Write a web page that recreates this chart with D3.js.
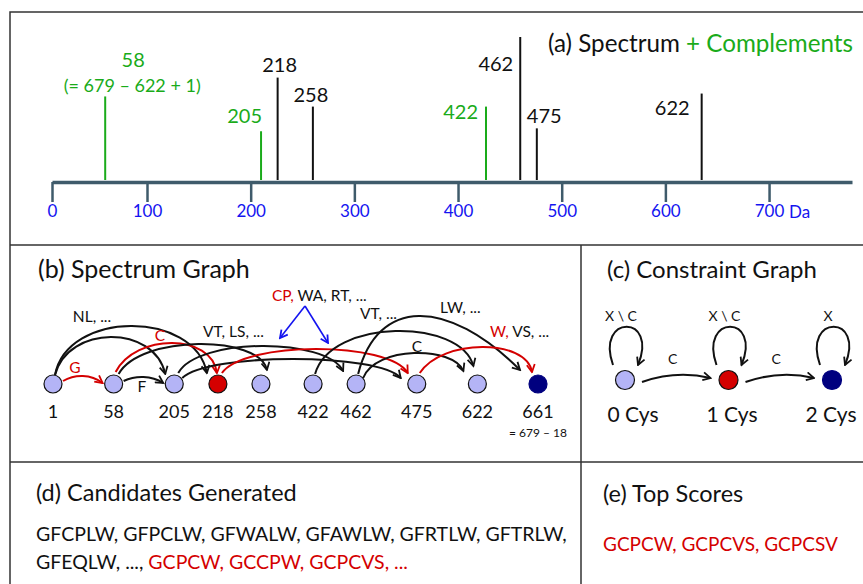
<!DOCTYPE html>
<html>
<head>
<meta charset="utf-8">
<script src="https://cdn.jsdelivr.net/npm/d3@7"></script>
<style>
  body { margin: 0; background: #fff; }
  svg { display: block; font-family: Lato, "Liberation Sans", sans-serif; }
</style>
</head>
<body>
<script>
// ---------- data ----------
const axisTicks = [0, 100, 200, 300, 400, 500, 600, 700];
const peakLabels = ["58", "205", "218", "258", "422", "462", "475", "622"];
const peakAxisDa = [56, 210, 226, 260, 427, 460, 476, 635]; // where each peak sits on the axis
const peakIntensity = [59, 35, 72, 52, 52, 100, 37, 61];
const peakIsComplement = [true, true, false, false, true, false, false, false];

const graphNodes = ["1", "58", "205", "218", "258", "422", "462", "475", "622", "661"];
const nodeCys = [0, 0, 0, 1, 0, 0, 0, 0, 0, 2];
const graphEdges = [
  ["1", "58", "red"], ["58", "205", "black"], ["1", "205", "black"], ["1", "218", "black"],
  ["58", "218", "red"], ["58", "258", "black"], ["205", "462", "black"], ["205", "475", "black"],
  ["218", "475", "red"], ["422", "622", "black"], ["462", "661", "black"], ["462", "622", "black"],
  ["475", "661", "red"]
];
const edgeTexts = [
  ["NL, ..."], ["G", "red"], ["F"], ["C", "red"], ["VT, LS, ..."],
  ["CP, ", "red", "WA, RT, ..."], ["VT, ..."], ["LW, ..."], ["C"], ["W, ", "red", "VS, ..."]
];

const cysStates = ["0 Cys", "1 Cys", "2 Cys"];
const loopLabels = ["X \\ C", "X \\ C", "X"];
const stepLabels = ["C", "C"];

const candidatesLine1 = "GFCPLW, GFPCLW, GFWALW, GFAWLW, GFRTLW, GFTRLW,";
const candidatesLine2 = "GFEQLW, ..., ";
const candidatesRed = "GCPCW, GCCPW, GCPCVS, ...";
const topScores = ["GCPCW", "GCPCVS", "GCPCSV"];

// ---------- setup ----------
const width = 863, height = 584;
const GREEN = "#1aab1a", BLUE = "#1414f0", RED = "#d40000", NAVY = "#00007f",
  LAV = "#b4b4f6", AXIS = "#3f5b6b", INK = "#111";
const stateColor = [LAV, RED, NAVY];

const svg = d3.select("body").append("svg")
  .attr("width", width)
  .attr("height", height);

// panel frame
svg.append("rect")
  .attr("x", 10).attr("y", 12)
  .attr("width", 870).attr("height", 590)
  .attr("fill", "none").attr("stroke", "#333").attr("stroke-width", 1.5);
svg.append("g")
  .attr("stroke", "#333").attr("stroke-width", 1.5)
  .selectAll("line")
  .data([[10, 245, 880, 245], [10, 462, 880, 462], [581, 245, 581, 600]])
  .join("line")
  .attr("x1", d => d[0]).attr("y1", d => d[1])
  .attr("x2", d => d[2]).attr("y2", d => d[3]);

// arrowheads
const defs = svg.append("defs");
[["arrK", INK], ["arrR", RED], ["arrB", BLUE]].forEach(([id, c]) => {
  defs.append("marker")
    .attr("id", id)
    .attr("viewBox", "0 0 10 10")
    .attr("refX", 8.5).attr("refY", 5)
    .attr("markerWidth", 10).attr("markerHeight", 10)
    .attr("markerUnits", "userSpaceOnUse")
    .attr("orient", "auto")
    .append("path")
    .attr("d", "M1,1 L8.5,5 L1,9")
    .attr("fill", "none").attr("stroke", c).attr("stroke-width", 1.8);
});

// ---------- (a) spectrum ----------
const x = d3.scaleLinear().domain([0, 100, 780]).range([52, 147, 852]);
const y = d3.scaleLinear().domain([0, 100]).range([182, 37]);

const axis = svg.append("g")
  .attr("transform", "translate(0,182)")
  .call(d3.axisBottom(x).tickValues(axisTicks).tickSize(20).tickSizeOuter(0).tickPadding(3))
  .attr("font-family", null)
  .attr("font-size", 17);
axis.select(".domain").attr("stroke", AXIS).attr("stroke-width", 3.5);
axis.selectAll(".tick line").attr("stroke", AXIS).attr("stroke-width", 2.5);
axis.selectAll(".tick text").attr("fill", BLUE);
svg.append("text")
  .attr("x", 789).attr("y", 218)
  .attr("font-size", 17).attr("fill", BLUE)
  .text("Da");

const peaks = peakLabels.map((label, i) => ({
  label, at: peakAxisDa[i], h: peakIntensity[i], comp: peakIsComplement[i]
}));

svg.append("g")
  .selectAll("line")
  .data(peaks)
  .join("line")
  .attr("x1", d => x(d.at)).attr("x2", d => x(d.at))
  .attr("y1", y(0) - 2).attr("y2", d => y(d.h))
  .attr("stroke", d => d.comp ? GREEN : INK)
  .attr("stroke-width", 2);

// label placement next to each peak: [dx, dy from top, anchor]
const peakLabelPlace = {
  "58": [28, -29, "middle"], "205": [1, -8, "end"], "218": [2, -6, "middle"],
  "258": [-2, -5, "middle"], "422": [-8, 12, "end"], "462": [-7, 34, "end"],
  "475": [-10, -5, "start"], "622": [-12, 21, "end"]
};
svg.append("g")
  .attr("font-size", 20)
  .selectAll("text")
  .data(peaks)
  .join("text")
  .attr("x", d => x(d.at) + peakLabelPlace[d.label][0])
  .attr("y", d => y(d.h) + peakLabelPlace[d.label][1])
  .attr("text-anchor", d => peakLabelPlace[d.label][2])
  .attr("fill", d => d.comp ? GREEN : INK)
  .text(d => d.label);
svg.append("text")
  .attr("x", x(peaks[0].at) + 27).attr("y", y(peaks[0].h) - 4)
  .attr("text-anchor", "middle")
  .attr("font-size", 18).attr("fill", GREEN)
  .text("(= 679 \u2013 622 + 1)");

const titleA = svg.append("text").attr("x", 548).attr("y", 52).attr("font-size", 24.2).attr("fill", INK);
titleA.append("tspan").text("(a) Spectrum ");
titleA.append("tspan").attr("fill", GREEN).text("+ Complements");

// ---------- (b) spectrum graph ----------
svg.append("text").attr("x", 38).attr("y", 278).attr("font-size", 25).attr("fill", INK)
  .text("(b) Spectrum Graph");

const nodeSlot = [0, 1, 2, 2.72, 3.43, 4.29, 5, 6, 7, 8];
const gx = d3.scaleLinear().domain([0, 8]).range([53, 538]);
const nodeY = 384;
const nodeX = new Map(graphNodes.map((m, i) => [m, gx(nodeSlot[i])]));

// arc shapes: peak height h, start / end offsets from node centres
const edgeShape = {
  "1-58": { h: 8, sdx: 10, sdy: 3, edx: 11, edy: 1, a: 0.3, b: 0.3 },
  "58-205": { h: 7, sdx: 10, sdy: 3, edx: 11, edy: 1, a: 0.3, b: 0.3 },
  "1-205": { h: 47, sdx: 2, sdy: 9, edx: 9, edy: 10 },
  "1-218": { h: 58, sdx: 2, sdy: 9, edx: 11, edy: 11, a: 0.08, b: 0.08 },
  "58-218": { h: 41, sdx: 2, sdy: 12, edx: 1, edy: 11, a: 0.2, b: 0.05 },
  "58-258": { h: 40, sdx: 5, sdy: 10, edx: -6, edy: 14, a: 0.15, b: 0.05 },
  "205-462": { h: 38, sdx: 4, sdy: 11, edx: 13, edy: 13 },
  "205-475": { h: 25, sdx: 8, sdy: 6, edx: 16, edy: 6 },
  "218-475": { h: 35, sdx: 4, sdy: 11, edx: 9, edy: 11 },
  "422-622": { h: 53, sdx: 2, sdy: 10, edx: 4, edy: 18, a: 0.1, b: 0.08 },
  "462-661": { h: 68, sdx: 2, sdy: 10, edx: 18, edy: 14, a: 0.12, b: 0.45 },
  "462-622": { h: 31, sdx: 7, sdy: 6, edx: 14, edy: 13 },
  "475-661": { h: 37, sdx: 3, sdy: 11, edx: 6, edy: 12, a: 0.2, b: 0.05 }
};

function edgePath([from, to]) {
  const s = edgeShape[from + "-" + to];
  const x1 = nodeX.get(from) + s.sdx, y1 = nodeY - s.sdy;
  const x2 = nodeX.get(to) - s.edx, y2 = nodeY - s.edy;
  const cy = (nodeY - s.h - 0.125 * (y1 + y2)) / 0.75;
  const span = x2 - x1;
  const p = d3.path();
  p.moveTo(x1, y1);
  p.bezierCurveTo(x1 + span * (s.a ?? 0.12), cy, x2 - span * (s.b ?? 0.1), cy, x2, y2);
  return p.toString();
}

svg.append("g")
  .attr("fill", "none")
  .attr("stroke-width", 2)
  .selectAll("path")
  .data(graphEdges)
  .join("path")
  .attr("d", edgePath)
  .attr("stroke", d => d[2] === "red" ? RED : INK)
  .attr("marker-end", d => d[2] === "red" ? "url(#arrR)" : "url(#arrK)");

svg.append("g")
  .selectAll("circle")
  .data(graphNodes)
  .join("circle")
  .attr("cx", d => nodeX.get(d)).attr("cy", nodeY)
  .attr("r", 9)
  .attr("fill", (d, i) => stateColor[nodeCys[i]])
  .attr("stroke", d => d === "661" ? NAVY : INK)
  .attr("stroke-width", 1.2);

svg.append("g")
  .attr("font-size", 18).attr("text-anchor", "middle").attr("fill", INK)
  .selectAll("text")
  .data(graphNodes)
  .join("text")
  .attr("x", d => nodeX.get(d)).attr("y", 418)
  .text(d => d);
svg.append("text")
  .attr("x", nodeX.get("661")).attr("y", 437)
  .attr("text-anchor", "middle").attr("font-size", 12).attr("fill", INK)
  .text("= 679 \u2013 18");

// edge label placement: [x, y, anchor]
const edgeTextPlace = [
  [92, 322, "middle"], [75, 373, "middle"], [142, 392, "middle"], [160, 341, "middle"],
  [203, 337, "start"], [272, 301, "start"], [360, 319, "start"], [440, 313, "start"],
  [417, 352, "middle"], [490, 337, "start"]
];
edgeTexts.forEach((parts, i) => {
  const [px, py, anchor] = edgeTextPlace[i];
  const t = svg.append("text").attr("x", px).attr("y", py)
    .attr("text-anchor", anchor).attr("font-size", 15.5).attr("fill", INK);
  if (parts.length === 1) t.text(parts[0]);
  else if (parts.length === 2) t.attr("fill", RED).text(parts[0]);
  else {
    t.append("tspan").attr("fill", RED).text(parts[0]);
    t.append("tspan").text(parts[2]);
  }
});

// blue pointers from the CP/WA/RT label to its two edges
svg.append("g")
  .attr("stroke", BLUE).attr("stroke-width", 1.6).attr("fill", "none")
  .selectAll("line")
  .data([[305, 306, 280, 338], [305, 306, 328, 343]])
  .join("line")
  .attr("x1", d => d[0]).attr("y1", d => d[1])
  .attr("x2", d => d[2]).attr("y2", d => d[3])
  .attr("marker-end", "url(#arrB)");

// ---------- (c) constraint graph ----------
svg.append("text").attr("x", 607).attr("y", 278).attr("font-size", 24).attr("fill", INK)
  .text("(c) Constraint Graph");

const cx = d3.scalePoint().domain(cysStates).range([625, 832]);
const cY = 380;

svg.append("g")
  .attr("fill", "none").attr("stroke", INK).attr("stroke-width", 2)
  .selectAll("path")
  .data(cysStates)
  .join("path")
  .attr("d", d => {
    const p = d3.path(), x0 = cx(d);
    p.moveTo(x0 - 12, cY - 15);
    p.bezierCurveTo(x0 - 30, cY - 66, x0 + 34, cY - 66, x0 + 13, cY - 15);
    return p.toString();
  })
  .attr("marker-end", "url(#arrK)");

svg.append("g")
  .attr("fill", "none").attr("stroke", INK).attr("stroke-width", 2)
  .selectAll("path")
  .data(stepLabels)
  .join("path")
  .attr("d", (d, i) => {
    const a = cx(cysStates[i]) + 17, b = cx(cysStates[i + 1]) - 18;
    const p = d3.path();
    p.moveTo(a, cY + 2);
    p.quadraticCurveTo((a + b) / 2, cY - 10, b, cY - 2);
    return p.toString();
  })
  .attr("marker-end", "url(#arrK)");

svg.append("g")
  .attr("font-size", 14).attr("text-anchor", "middle").attr("fill", INK)
  .selectAll("text")
  .data(stepLabels)
  .join("text")
  .attr("x", (d, i) => (cx(cysStates[i]) + cx(cysStates[i + 1])) / 2 - 4)
  .attr("y", 364)
  .text(d => d);

svg.append("g")
  .attr("font-size", 14).attr("text-anchor", "middle").attr("fill", INK)
  .selectAll("text")
  .data(loopLabels)
  .join("text")
  .attr("x", (d, i) => cx(cysStates[i]) - 4)
  .attr("y", 321)
  .text(d => d);

svg.append("g")
  .selectAll("circle")
  .data(cysStates)
  .join("circle")
  .attr("cx", d => cx(d)).attr("cy", cY)
  .attr("r", 9.5)
  .attr("fill", (d, i) => stateColor[i])
  .attr("stroke", (d, i) => i === 2 ? NAVY : INK)
  .attr("stroke-width", 1.2);

svg.append("g")
  .attr("font-size", 21).attr("text-anchor", "middle").attr("fill", INK)
  .selectAll("text")
  .data(cysStates)
  .join("text")
  .attr("x", (d, i) => cx(d) + 8 - 4.5 * i).attr("y", 422)
  .text(d => d);

// ---------- (d) candidates, (e) top scores ----------
svg.append("text").attr("x", 36).attr("y", 501).attr("font-size", 23.5).attr("fill", INK)
  .text("(d) Candidates Generated");
svg.append("text").attr("x", 36).attr("y", 541).attr("font-size", 19.5).attr("fill", INK)
  .text(candidatesLine1);
const line2 = svg.append("text").attr("x", 36).attr("y", 569).attr("font-size", 19.5).attr("fill", INK);
line2.append("tspan").text(candidatesLine2);
line2.append("tspan").attr("fill", RED).text(candidatesRed);

svg.append("text").attr("x", 603).attr("y", 502).attr("font-size", 23.5).attr("fill", INK)
  .text("(e) Top Scores");
svg.append("text").attr("x", 603).attr("y", 551).attr("font-size", 19).attr("fill", RED)
  .text(topScores.join(", "));
</script>
</body>
</html>
